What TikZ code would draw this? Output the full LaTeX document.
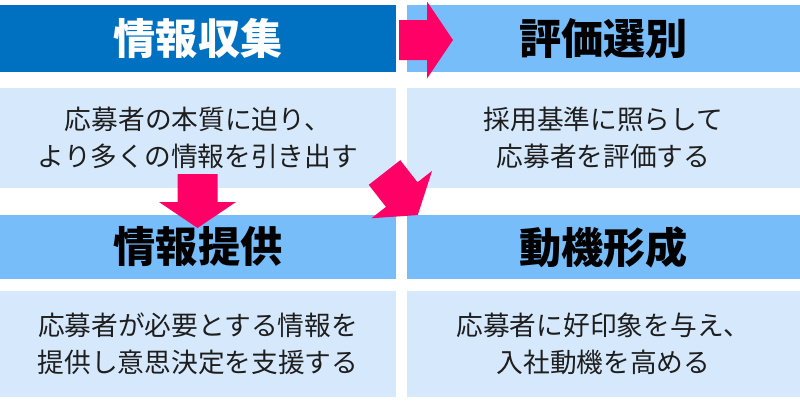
\documentclass[tikz,border=0pt]{standalone}
\usepackage{fontspec}
\setmainfont{Noto Sans CJK JP}
\usepackage{tikz}
\usetikzlibrary{positioning}
\definecolor{spDark}{RGB}{0,112,192}
\definecolor{spHead}{RGB}{118,189,250}
\definecolor{spBody}{RGB}{214,233,252}
\definecolor{spPink}{RGB}{255,0,102}
\definecolor{spText}{RGB}{30,30,30}
\tikzset{
  spTitle/.style={fill=#1, inner sep=0pt, minimum width=9.9cm,
                  minimum height=1.675cm, align=center,
                  font=\fontsize{30}{36}\selectfont\bfseries},
  spTitleLow/.style={spTitle=#1, minimum height=1.6cm},
  spText/.style={fill=spBody, inner sep=0pt, minimum width=9.9cm,
                 minimum height=2.5cm, align=center, text=spText,
                 font=\fontsize{19}{26.3}\selectfont},
  spTextLow/.style={spText, minimum height=2.65cm},
  pics/spArrow/.style={code={
    \fill[spPink] (0,-20) -- (28,-20) -- (28,-38.5) -- (54,0)
      -- (28,38.5) -- (28,20) -- (0,20) -- cycle;}}
}

\begin{document}
\begin{tikzpicture}[x=0.025cm,y=-0.025cm]
  \useasboundingbox (0,0) rectangle (800,402);
  % header row
  \node[spTitle=spDark, text=white] (collect) at (198,38.5) {情報収集};
  \node[spTitle=spHead, minimum width=9.825cm] (select) at (603.5,38.5) {評価選別};
  \node[spText] (collectTxt) at (198,138)
        {応募者の本質に迫り、\\より多くの情報を引き出す};
  \node[spText, minimum width=9.825cm] (selectTxt) at (603.5,138)
        {採用基準に照らして\\応募者を評価する};
  % lower row
  \node[spTitleLow=spHead] (inform) at (198,247) {情報提供};
  \node[spTitleLow=spHead, minimum width=9.825cm] (motive) at (603.5,247) {動機形成};
  \node[spTextLow] (informTxt) at (198,344)
        {応募者が必要とする情報を\\提供し意思決定を支援する};
  \node[spTextLow, minimum width=9.825cm] (motiveTxt) at (603.5,344)
        {応募者に好印象を与え、\\入社動機を高める};

  \pic at (399,40) {spArrow};
  \pic[rotate=-90] at (197.5,174) {spArrow};
  \pic[rotate=-52] at (384.5,172.5) {spArrow};
\end{tikzpicture}
\end{document}
